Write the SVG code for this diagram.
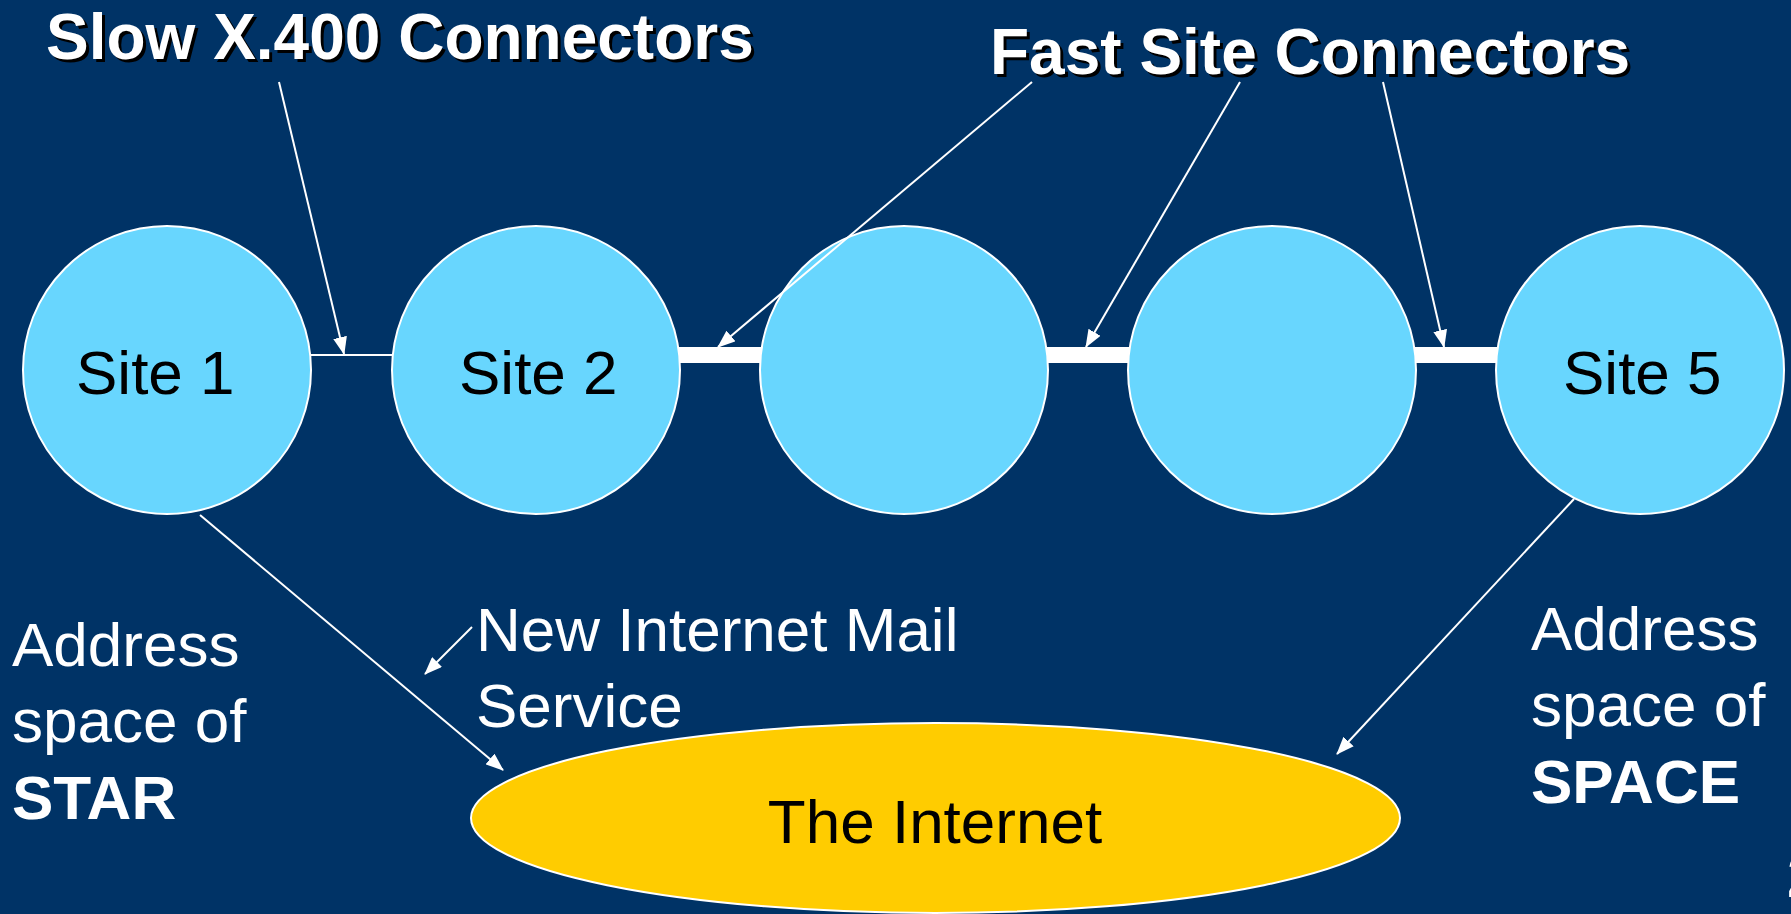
<svg xmlns="http://www.w3.org/2000/svg" width="1791" height="914" viewBox="0 0 1791 914">
  <defs>
    <style>
      .bg { fill: #003366; }
      .site { fill: #68D6FE; stroke: #FFFFFF; stroke-width: 2; }
      .net { fill: #FFCC00; stroke: #FFFFFF; stroke-width: 2; }
      .lbl { font-family: "Liberation Sans", Arial, sans-serif; font-size: 62px; fill: #000000; }
      .note { font-family: "Liberation Sans", Arial, sans-serif; font-size: 62px; fill: #FFFFFF; }
      .bold { font-weight: bold; }
      .title { font-family: "Liberation Sans", Arial, sans-serif; font-size: 64px; font-weight: bold; }
      .shadow { fill: #000000; }
      .white { fill: #FFFFFF; }
      .ptr { stroke: #FFFFFF; stroke-width: 2; fill: none; marker-end: url(#head); }
      .slow { stroke: #FFFFFF; stroke-width: 2; }
      .fast { fill: #FFFFFF; }
    </style>
    <marker id="head" markerUnits="userSpaceOnUse" markerWidth="18" markerHeight="14" refX="17" refY="7" orient="auto">
      <path d="M0,0 L18,7 L0,14 Z" fill="#FFFFFF"/>
    </marker>
  </defs>

  <rect class="bg" x="0" y="0" width="1791" height="914"/>

  <!-- links between neighbouring sites -->
  <g id="links">
    <line class="slow" x1="300" y1="355" x2="400" y2="355"/>
    <rect class="fast" x="670" y="347" width="100" height="16"/>
    <rect class="fast" x="1038" y="347" width="100" height="16"/>
    <rect class="fast" x="1406" y="347" width="100" height="16"/>
  </g>

  <!-- sites -->
  <g id="site1">
    <circle class="site" cx="167" cy="370" r="144"/>
    <text class="lbl" x="76" y="394">Site 1</text>
  </g>
  <g id="site2">
    <circle class="site" cx="536" cy="370" r="144"/>
    <text class="lbl" x="459" y="394">Site 2</text>
  </g>
  <g id="site3">
    <circle class="site" cx="904" cy="370" r="144"/>
  </g>
  <g id="site4">
    <circle class="site" cx="1272" cy="370" r="144"/>
  </g>
  <g id="site5">
    <circle class="site" cx="1640" cy="370" r="144"/>
    <text class="lbl" x="1563" y="394">Site 5</text>
  </g>

  <!-- internet -->
  <g id="internet">
    <ellipse class="net" cx="935.5" cy="818" rx="464.5" ry="95"/>
    <text class="lbl" x="935" y="843" text-anchor="middle" font-size="63">The Internet</text>
  </g>

  <!-- headings -->
  <g id="title-slow">
    <text class="title shadow" x="49" y="62">Slow X.400 Connectors</text>
    <text class="title white" x="46" y="59">Slow X.400 Connectors</text>
  </g>
  <g id="title-fast">
    <text class="title shadow" x="993" y="77">Fast Site Connectors</text>
    <text class="title white" x="990" y="74">Fast Site Connectors</text>
  </g>

  <!-- side notes -->
  <g id="note-star">
    <text class="note" x="12" y="666">Address</text>
    <text class="note" x="12" y="742">space of</text>
    <text class="note bold" x="12" y="819">STAR</text>
  </g>
  <g id="note-space">
    <text class="note" x="1531" y="650">Address</text>
    <text class="note" x="1531" y="726">space of</text>
    <text class="note bold" x="1531" y="803">SPACE</text>
  </g>
  <g id="note-imail">
    <text class="note" x="476" y="651">New Internet Mail</text>
    <text class="note" x="476" y="727">Service</text>
  </g>

  <!-- pointer arrows -->
  <g id="connectors">
    <line class="ptr" x1="279" y1="82" x2="344" y2="354"/>
    <line class="ptr" x1="1032" y1="82" x2="718" y2="347"/>
    <line class="ptr" x1="1240" y1="82" x2="1086" y2="347"/>
    <line class="ptr" x1="1383" y1="82" x2="1444" y2="347"/>
    <line class="ptr" x1="200" y1="515" x2="503" y2="770"/>
    <line class="ptr" x1="472" y1="627" x2="425" y2="674"/>
    <line class="ptr" x1="1574" y1="499" x2="1337" y2="754"/>
  </g>

  <!-- page number at the edge -->
  <text class="note bold" x="1787" y="897" font-size="33">2</text>
</svg>
